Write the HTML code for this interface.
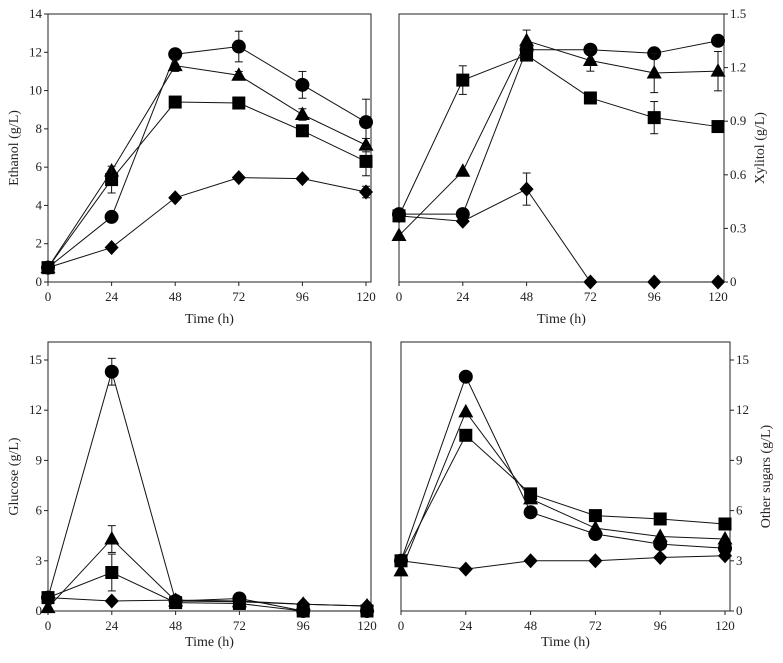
<!DOCTYPE html>
<html><head><meta charset="utf-8"><style>
html,body{margin:0;padding:0;background:#fff;width:783px;height:663px;overflow:hidden}
svg{display:block;font-family:"Liberation Serif",serif}
</style></head><body>
<svg id="c" width="783" height="663" viewBox="0 0 783 663"></svg>
<script>
const times=[0,24,48,72,96,120];
const ethCircle=[0.75,3.4,11.9,12.3,10.3,8.35];
const ethTriangle=[0.75,5.8,11.3,10.8,8.75,7.15];
const ethSquare=[0.75,5.35,9.4,9.35,7.9,6.3];
const ethDiamond=[0.75,1.8,4.4,5.45,5.4,4.7];
const ethErrCircle=[0,0,0,0.8,0.7,1.2];
const ethErrTriangle=[0,0,0.3,0.2,0.3,0.35];
const ethErrSquare=[0,0.7,0,0,0.25,0.75];
const ethErrDiamond=[0,0,0,0,0,0.3];
const xylCircle=[0.38,0.38,1.30,1.30,1.28,1.35];
const xylTriangle=[0.26,0.62,1.35,1.24,1.17,1.18];
const xylSquare=[0.37,1.13,1.27,1.03,0.92,0.87];
const xylDiamond=[0.37,0.34,0.52,0,0,0];
const xylErrCircle=[0,0,0,0,0,0];
const xylErrTriangle=[0,0,0.06,0.06,0.11,0.11];
const xylErrSquare=[0,0.08,0,0,0.09,0];
const xylErrDiamond=[0,0,0.09,0,0,0];
const gluCircle=[0.8,14.3,0.6,0.75,0,0];
const gluTriangle=[0.2,4.3,0.6,0.55,0.4,0.3];
const gluSquare=[0.8,2.3,0.5,0.45,0,0];
const gluDiamond=[0.8,0.6,0.65,0.6,0.4,0.3];
const gluErrCircle=[0,0.8,0,0,0,0];
const gluErrTriangle=[0,0.8,0,0,0,0];
const gluErrSquare=[0,1.1,0,0,0,0];
const gluErrDiamond=[0,0,0,0,0,0];
const othCircle=[3,14,5.9,4.6,4.0,3.75];
const othTriangle=[2.4,11.9,6.7,4.95,4.45,4.3];
const othSquare=[3,10.5,7.0,5.7,5.5,5.2];
const othDiamond=[3,2.5,3.0,3.0,3.2,3.3];
const zeroErr=[0,0,0,0,0,0];
const xTicks=[0,24,48,72,96,120];
const ethTicks=[0,2,4,6,8,10,12,14];
const xylTicks=[0,0.3,0.6,0.9,1.2,1.5];
const xylTickLabels=["0","0.3","0.6","0.9","1.2","1.5"];
const sugTicks=[0,3,6,9,12,15];

const svg=document.getElementById('c');
const NS='http://www.w3.org/2000/svg';
function mk(t,a,p){const e=document.createElementNS(NS,t);for(const k in a)e.setAttribute(k,a[k]);(p||svg).appendChild(e);return e;}

const panels=[
 {name:'ethanol-panel',fl:48,fr:371,ft:14,fb:282,x0:48,x1:366,y0:282,ymax:14,yAt:14,side:'left',title:'Ethanol (g/L)',ticks:ethTicks,labels:ethTicks.map(String),
  series:[[ethCircle,ethErrCircle,'circle'],[ethTriangle,ethErrTriangle,'triangle'],[ethSquare,ethErrSquare,'square'],[ethDiamond,ethErrDiamond,'diamond']],xlabY:323},
 {name:'xylitol-panel',fl:399,fr:724,ft:14,fb:282,x0:399,x1:718,y0:282,ymax:1.5,yAt:14,side:'right',title:'Xylitol (g/L)',ticks:xylTicks,labels:xylTickLabels,
  series:[[xylCircle,xylErrCircle,'circle'],[xylTriangle,xylErrTriangle,'triangle'],[xylSquare,xylErrSquare,'square'],[xylDiamond,xylErrDiamond,'diamond']],xlabY:323},
 {name:'glucose-panel',fl:48,fr:371,ft:342,fb:611,x0:48,x1:367,y0:611,ymax:15,yAt:360,side:'left',title:'Glucose (g/L)',ticks:sugTicks,labels:sugTicks.map(String),
  series:[[gluCircle,gluErrCircle,'circle'],[gluTriangle,gluErrTriangle,'triangle'],[gluSquare,gluErrSquare,'square'],[gluDiamond,gluErrDiamond,'diamond']],xlabY:646},
 {name:'other-sugars-panel',fl:401,fr:730,ft:342,fb:611,x0:401,x1:725,y0:611,ymax:15,yAt:360,side:'right',title:'Other sugars (g/L)',ticks:sugTicks,labels:sugTicks.map(String),
  series:[[othCircle,zeroErr,'circle'],[othTriangle,zeroErr,'triangle'],[othSquare,zeroErr,'square'],[othDiamond,zeroErr,'diamond']],xlabY:646}
];

panels.forEach(p=>{
 const g=mk('g',{});
 
 
 const X=v=>p.x0+(p.x1-p.x0)*v/120;
 const Y=v=>p.y0-(p.y0-p.yAt)*v/p.ymax;
 const fr=mk('rect',{x:p.fl,y:p.ft,width:p.fr-p.fl,height:p.fb-p.ft,fill:'none',stroke:'#222','stroke-width':1},g);
 
 
 xTicks.forEach(t=>{
  mk('line',{x1:X(t),x2:X(t),y1:p.fb,y2:p.fb+4,stroke:'#222'},g);
  const tx=mk('text',{x:X(t),y:p.fb+19,'font-size':13,'text-anchor':'middle',fill:'#222'},g);
  tx.textContent=t;
  
  
 });
 const ax=p.side==='left'?p.fl:p.fr;
 p.ticks.forEach((t,i)=>{
  const d=p.side==='left'?-4:4;
  mk('line',{x1:ax,x2:ax+d,y1:Y(t),y2:Y(t),stroke:'#222'},g);
  const tx=mk('text',{x:p.side==='left'?ax-6:ax+6,y:Y(t)+4,'font-size':13,'text-anchor':p.side==='left'?'end':'start',fill:'#222'},g);
  tx.textContent=p.labels[i];
  
  
 });
 const xl=mk('text',{x:(p.fl+p.fr)/2,y:p.xlabY,'font-size':14,'text-anchor':'middle',fill:'#222'},g);
 xl.textContent='Time (h)';
 
 
 const cy=(p.ft+p.fb)/2;
 const tx0=p.side==='left'?p.fl-30:p.fr+40;
 const yl=mk('text',{x:tx0,y:cy,'font-size':14,'text-anchor':'middle',fill:'#222',transform:`rotate(-90 ${tx0} ${cy})`},g);
 yl.textContent=p.title;
 
 
 p.series.forEach(([vals,errs,shape])=>{
  const sg=mk('g',{},g);
  
  
  mk('polyline',{points:vals.map((v,i)=>X(times[i])+','+Y(v)).join(' '),fill:'none',stroke:'#111','stroke-width':1},sg);
  vals.forEach((v,i)=>{
   const x=X(times[i]),y=Y(v),e=errs[i];
   if(e>0){
    mk('line',{x1:x,x2:x,y1:Y(v+e),y2:Y(v-e),stroke:'#111'},sg);
    mk('line',{x1:x-4,x2:x+4,y1:Y(v+e),y2:Y(v+e),stroke:'#111'},sg);
    mk('line',{x1:x-4,x2:x+4,y1:Y(v-e),y2:Y(v-e),stroke:'#111'},sg);
   }
   let m;
   if(shape==='circle')m=mk('circle',{cx:x,cy:y,r:7,fill:'#000'},sg);
   else if(shape==='square')m=mk('rect',{x:x-6.5,y:y-6.5,width:13,height:13,fill:'#000'},sg);
   else if(shape==='triangle')m=mk('polygon',{points:`${x},${y-8} ${x-7.5},${y+5.5} ${x+7.5},${y+5.5}`,fill:'#000'},sg);
   else m=mk('polygon',{points:`${x},${y-7.5} ${x+7},${y} ${x},${y+7.5} ${x-7},${y}`,fill:'#000'},sg);
   
   
  });
 });
});
</script>
</body></html>
